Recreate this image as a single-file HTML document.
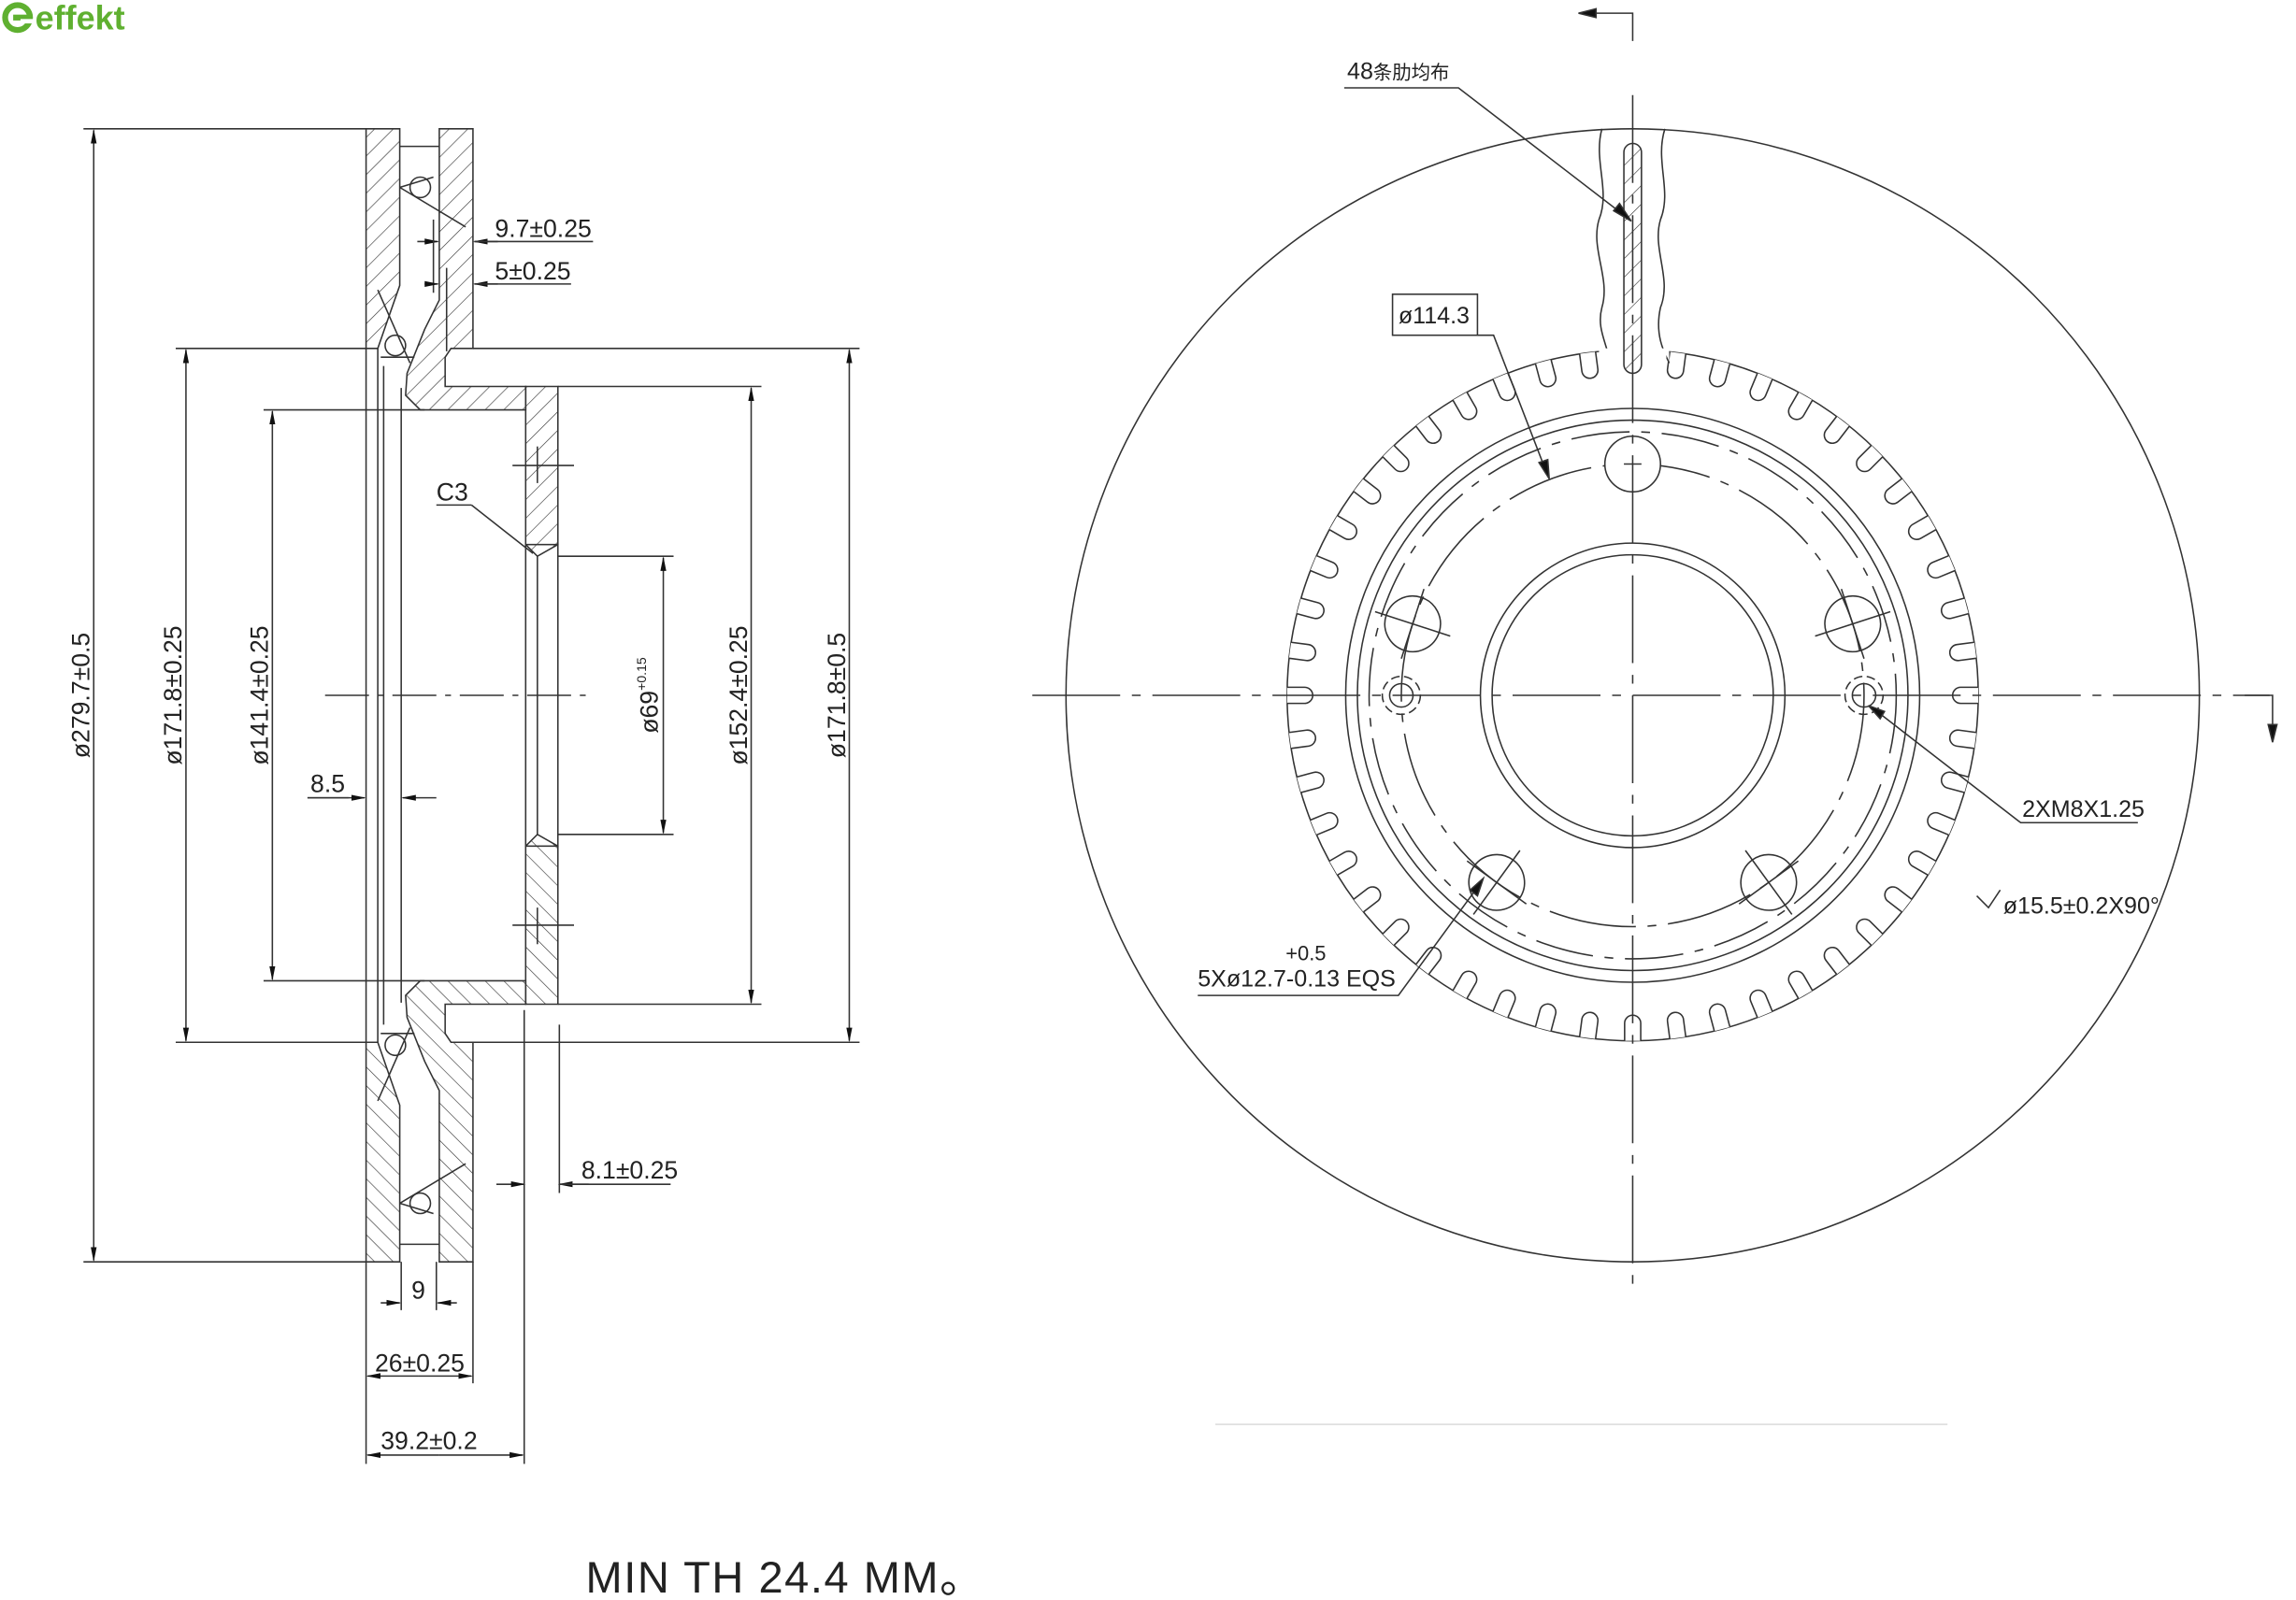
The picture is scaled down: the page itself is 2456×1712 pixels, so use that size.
<!DOCTYPE html>
<html><head><meta charset="utf-8"><style>
html,body{margin:0;padding:0;background:#fff;}
svg{display:block;}
text{font-family:"Liberation Sans Narrow","Liberation Sans",sans-serif;fill:#222;}
</style></head><body>
<svg width="2456" height="1712" viewBox="0 0 1568 1093" preserveAspectRatio="none" xmlns="http://www.w3.org/2000/svg">
<defs>
<pattern id="h" patternUnits="userSpaceOnUse" width="9" height="9" patternTransform="rotate(45)">
<line x1="0" y1="0" x2="0" y2="9" stroke="#333" stroke-width="0.8"/>
</pattern>
<marker id="a" markerWidth="10" markerHeight="6" refX="9" refY="3" orient="auto" markerUnits="userSpaceOnUse"><path d="M0,1 L10,3 L0,5z" fill="#111"/></marker>
<g id="slot"><path d="M-5.5,-236 L-5.5,-224 A5.5 5.5 0 0 0 5.5,-224 L5.5,-236" fill="#fff" stroke="#333" stroke-width="1"/></g>
</defs>
<rect width="1568" height="1093" fill="#fff"/>

<!-- logo -->
<circle cx="12" cy="12" r="8.5" fill="none" stroke="#5fb030" stroke-width="4"/>
<rect x="9" y="10" width="12" height="4" fill="#5fb030"/>
<rect x="14" y="13" width="9" height="3" fill="#fff"/>
<text x="24" y="20" style="font-family:'Liberation Sans',sans-serif;font-weight:bold;font-size:23px;fill:#5fb030">effekt</text>

<g stroke="#333" stroke-width="1" fill="none">
<!-- LEFT SECTION -->
<g id="halfsec">
<polygon points="250,88 273,88 273,195 266,215 258,238 250,238" fill="url(#h)"/>
<polygon points="300,88 323,88 323,238 308,238 304,244 304,264 359,264 359,280 287,280 277,270 278,255 290,225 300,205" fill="url(#h)"/>
<polygon points="359,264 381,264 381,372 367,380 359,372" fill="url(#h)"/>
<line x1="273" y1="100" x2="300" y2="100"/>
<circle cx="287" cy="128" r="7"/>
<line x1="273" y1="128" x2="318" y2="155"/>
<line x1="273" y1="128" x2="296" y2="121"/>
<circle cx="270" cy="236" r="7"/>
<line x1="258" y1="198" x2="280" y2="248"/>
<line x1="260" y1="244" x2="283" y2="244"/>
<line x1="350" y1="318" x2="392" y2="318"/>
<line x1="367" y1="305" x2="367" y2="330"/>
</g>
<use href="#halfsec" transform="translate(0,950) scale(1,-1)"/>
<rect x="359" y="372" width="22" height="206"/>
<line x1="367" y1="380" x2="367" y2="570"/>
<line x1="250" y1="238" x2="250" y2="712"/>
<line x1="258" y1="238" x2="258" y2="712"/>
<line x1="262" y1="250" x2="262" y2="700"/>
<line x1="274" y1="265" x2="274" y2="685"/>
<line x1="274" y1="862" x2="274" y2="895"/>
<line x1="298" y1="862" x2="298" y2="895"/>
<!-- C3 -->
<text x="298" y="342" style="font-size:17px" stroke="none">C3</text>
<line x1="298" y1="345" x2="322" y2="345"/>
<line x1="322" y1="345" x2="364" y2="378"/>
<!-- centre line -->
<line x1="222" y1="475" x2="400" y2="475" stroke-dasharray="30,6,4,6"/>

<!-- extension lines -->
<line x1="57" y1="88" x2="250" y2="88"/>
<line x1="57" y1="862" x2="250" y2="862"/>
<line x1="120" y1="238" x2="250" y2="238"/>
<line x1="120" y1="712" x2="250" y2="712"/>
<line x1="180" y1="280" x2="290" y2="280"/>
<line x1="180" y1="670" x2="290" y2="670"/>
<line x1="323" y1="238" x2="587" y2="238"/>
<line x1="323" y1="712" x2="587" y2="712"/>
<line x1="381" y1="264" x2="520" y2="264"/>
<line x1="381" y1="686" x2="520" y2="686"/>
<line x1="381" y1="380" x2="460" y2="380"/>
<line x1="381" y1="570" x2="460" y2="570"/>
<!-- vertical dims -->
<line x1="64" y1="475" x2="64" y2="89" marker-end="url(#a)"/><line x1="64" y1="475" x2="64" y2="861" marker-end="url(#a)"/>
<line x1="127" y1="475" x2="127" y2="239" marker-end="url(#a)"/><line x1="127" y1="475" x2="127" y2="711" marker-end="url(#a)"/>
<line x1="186" y1="475" x2="186" y2="281" marker-end="url(#a)"/><line x1="186" y1="475" x2="186" y2="669" marker-end="url(#a)"/>
<line x1="453" y1="475" x2="453" y2="381" marker-end="url(#a)"/><line x1="453" y1="475" x2="453" y2="569" marker-end="url(#a)"/>
<line x1="513" y1="475" x2="513" y2="265" marker-end="url(#a)"/><line x1="513" y1="475" x2="513" y2="685" marker-end="url(#a)"/>
<line x1="580" y1="475" x2="580" y2="239" marker-end="url(#a)"/><line x1="580" y1="475" x2="580" y2="711" marker-end="url(#a)"/>
<!-- horizontal small dims -->
<line x1="285" y1="165" x2="299" y2="165" marker-end="url(#a)"/>
<line x1="340" y1="165" x2="324" y2="165" marker-end="url(#a)"/>
<line x1="324" y1="165" x2="405" y2="165"/>
<line x1="296" y1="150" x2="296" y2="200"/>
<line x1="290" y1="194" x2="299" y2="194" marker-end="url(#a)"/>
<line x1="340" y1="194" x2="324" y2="194" marker-end="url(#a)"/>
<line x1="324" y1="194" x2="390" y2="194"/>
<line x1="305" y1="183" x2="305" y2="240"/>
<line x1="210" y1="545" x2="249" y2="545" marker-end="url(#a)"/>
<line x1="298" y1="545" x2="275" y2="545" marker-end="url(#a)"/>
<line x1="210" y1="545" x2="238" y2="545"/>
<line x1="339" y1="809" x2="358" y2="809" marker-end="url(#a)"/>
<line x1="402" y1="809" x2="382" y2="809" marker-end="url(#a)"/>
<line x1="382" y1="809" x2="458" y2="809"/>
<line x1="358" y1="690" x2="358" y2="1000"/>
<line x1="382" y1="700" x2="382" y2="815"/>
<line x1="250" y1="862" x2="250" y2="1000"/>
<line x1="323" y1="862" x2="323" y2="945"/>
<line x1="260" y1="890" x2="273" y2="890" marker-end="url(#a)"/>
<line x1="312" y1="890" x2="299" y2="890" marker-end="url(#a)"/>
<line x1="286" y1="940" x2="251" y2="940" marker-end="url(#a)"/>
<line x1="286" y1="940" x2="322" y2="940" marker-end="url(#a)"/>
<line x1="300" y1="994" x2="251" y2="994" marker-end="url(#a)"/>
<line x1="300" y1="994" x2="357" y2="994" marker-end="url(#a)"/>
</g>
<g stroke="none" style="font-size:17px">
<text x="338" y="162">9.7±0.25</text>
<text x="338" y="191">5±0.25</text>
<text x="212" y="541">8.5</text>
<text x="397" y="805">8.1±0.25</text>
<text x="281" y="887">9</text>
<text x="256" y="937">26±0.25</text>
<text x="260" y="990">39.2±0.2</text>
<text transform="translate(61,475) rotate(-90)" text-anchor="middle">ø279.7±0.5</text>
<text transform="translate(124,475) rotate(-90)" text-anchor="middle">ø171.8±0.25</text>
<text transform="translate(183,475) rotate(-90)" text-anchor="middle">ø141.4±0.25</text>
<text transform="translate(449,475) rotate(-90)" text-anchor="middle">ø69<tspan style="font-size:9px" dy="-8">+0.15</tspan></text>
<text transform="translate(510,475) rotate(-90)" text-anchor="middle">ø152.4±0.25</text>
<text transform="translate(577,475) rotate(-90)" text-anchor="middle">ø171.8±0.5</text>
<text x="400" y="1088" style="font-size:30px;letter-spacing:1px">MIN TH 24.4 MM。</text>
</g>

<!-- RIGHT VIEW -->
<g stroke="#333" stroke-width="1" fill="none">
<circle cx="1115" cy="475" r="387"/>
<circle cx="1115" cy="475" r="236" fill="#fff"/>
<g transform="translate(1115,475)">
<g id="s6"><use href="#slot" transform="rotate(7.5)"/><use href="#slot" transform="rotate(15)"/><use href="#slot" transform="rotate(22.5)"/><use href="#slot" transform="rotate(30)"/><use href="#slot" transform="rotate(37.5)"/><use href="#slot" transform="rotate(45)"/></g>
<use href="#s6" transform="rotate(45)"/><use href="#s6" transform="rotate(90)"/><use href="#s6" transform="rotate(135)"/>
<use href="#s6" transform="rotate(180)"/><use href="#s6" transform="rotate(225)"/><use href="#s6" transform="rotate(270)"/>
<g><use href="#slot" transform="rotate(322.5)"/><use href="#slot" transform="rotate(330)"/><use href="#slot" transform="rotate(337.5)"/><use href="#slot" transform="rotate(345)"/><use href="#slot" transform="rotate(352.5)"/></g>
</g>
<circle cx="1115" cy="475" r="196"/>
<circle cx="1115" cy="475" r="188"/>
<circle cx="1115" cy="475" r="180" stroke-dasharray="40,8,6,8"/>
<circle cx="1115" cy="475" r="158" stroke-dasharray="60,8,6,8"/>
<circle cx="1115" cy="475" r="104"/>
<circle cx="1115" cy="475" r="96"/>
<!-- break region -->
<path d="M1094,88 C1088,110 1100,130 1092,150 C1086,170 1100,190 1094,210 C1090,225 1098,235 1100,250" fill="#fff"/>
<path d="M1137,88 C1130,110 1142,130 1134,150 C1128,170 1142,190 1134,210 C1130,228 1136,240 1140,248" fill="#fff"/>
<rect x="1092" y="238" width="46" height="14" fill="#fff" stroke="none"/>
<rect x="1109" y="98" width="12" height="157" rx="6" fill="url(#h)"/>
<!-- holes -->
<g id="hole"><circle cx="1115" cy="317" r="19" fill="#fff"/><line x1="1109" y1="317" x2="1121" y2="317"/></g>
<g transform="rotate(72 1115 475)"><circle cx="1115" cy="317" r="19"/><line x1="1115" y1="290" x2="1115" y2="344"/><line x1="1090" y1="317" x2="1140" y2="317"/></g>
<g transform="rotate(144 1115 475)"><circle cx="1115" cy="317" r="19"/><line x1="1115" y1="290" x2="1115" y2="344"/><line x1="1090" y1="317" x2="1140" y2="317"/></g>
<g transform="rotate(216 1115 475)"><circle cx="1115" cy="317" r="19"/><line x1="1115" y1="290" x2="1115" y2="344"/><line x1="1090" y1="317" x2="1140" y2="317"/></g>
<g transform="rotate(288 1115 475)"><circle cx="1115" cy="317" r="19"/><line x1="1115" y1="290" x2="1115" y2="344"/><line x1="1090" y1="317" x2="1140" y2="317"/></g>
<circle cx="957" cy="475" r="8"/><circle cx="957" cy="475" r="13" stroke-dasharray="6,3"/>
<circle cx="1273" cy="475" r="8"/><circle cx="1273" cy="475" r="13" stroke-dasharray="6,3"/>
<!-- centre lines -->
<line x1="1115" y1="65" x2="1115" y2="882" stroke-dasharray="60,8,6,8"/>
<line x1="705" y1="475" x2="1550" y2="475" stroke-dasharray="60,8,6,8"/>
<!-- section arrows -->
<polyline points="1115,28 1115,9 1079,9"/>
<path d="M1078,9 L1090,6 L1090,12z" fill="#111"/>
<polyline points="1533,475 1552,475 1552,505"/>
<path d="M1552,507 L1549,495 L1555,495z" fill="#111"/>
<!-- leaders -->
<polyline points="918,60 996,60 1113,150"/><path d="M1114,151 L1102,144 L1106,139z" fill="#111"/>
<rect x="951" y="201" width="58" height="28"/>
<polyline points="1009,229 1020,229 1057,325"/><path d="M1058,327 L1051,316 L1057,314z" fill="#111"/>
<polyline points="1460,562 1380,562 1278,483"/><path d="M1276,482 L1287,486 L1284,491z" fill="#111"/>
<polyline points="1350,612 1358,620 1366,608"/>
<polyline points="818,680 955,680 1012,602"/><path d="M1013,600 L1009,612 L1004,608z" fill="#111"/>
<line x1="830" y1="973" x2="1330" y2="973" stroke="#ddd"/>
</g>
<g stroke="none" style="font-size:16px">
<text x="920" y="54">48<tspan style="font-family:'Noto Sans CJK SC',sans-serif;font-size:13px">条肋均布</tspan></text>
<text x="955" y="221">ø114.3</text>
<text x="1381" y="558">2XM8X1.25</text>
<text x="1368" y="624">ø15.5±0.2X90°</text>
<text x="878" y="656" style="font-size:14px">+0.5</text>
<text x="818" y="674">5Xø12.7-0.13 EQS</text>
</g>
</svg>
</body></html>
